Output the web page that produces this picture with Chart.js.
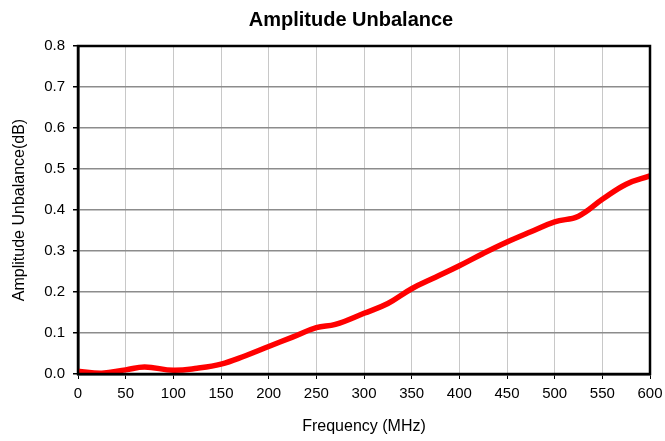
<!DOCTYPE html>
<html>
<head>
<meta charset="utf-8">
<script src="https://cdn.jsdelivr.net/npm/chart.js@4/dist/chart.umd.min.js"></script>
<style>
  html, body { margin: 0; padding: 0; background: #fff; }
  #wrap { width: 665px; height: 441px; }
</style>
</head>
<body>
<div id="wrap"><canvas id="chart"></canvas></div>
<script>
// ----------------------------------------------------
//                 DATA
// ----------------------------------------------------
const chartTitle = "Amplitude Unbalance";
const xTitle = "Frequency (MHz)";
const yTitle = "Amplitude Unbalance(dB)";

const freqMHz = [0, 25, 50, 70, 100, 125, 150, 175, 200, 225, 250, 270, 300, 325, 350, 375, 400, 425, 450, 475, 500, 525, 550, 575, 600];
const unbalanceDB = [0.007, 0.002, 0.010, 0.017, 0.009, 0.014, 0.024, 0.044, 0.067, 0.090, 0.113, 0.121, 0.148, 0.172, 0.208, 0.236, 0.264, 0.294, 0.322, 0.347, 0.371, 0.385, 0.426, 0.463, 0.483];

const xTicks = [0, 50, 100, 150, 200, 250, 300, 350, 400, 450, 500, 550, 600];
const yTicks = [0.0, 0.1, 0.2, 0.3, 0.4, 0.5, 0.6, 0.7, 0.8];

// ----------------------------------------------------
//                 PLUGINS
// ----------------------------------------------------
const FONT = "'Liberation Sans', Arial, sans-serif";

// titre + cadre noir autour de la zone de tracé
const frame = {
  id: "frame",
  afterDraw(chart) {
    const { ctx, chartArea: a } = chart;
    ctx.save();
    ctx.strokeStyle = "#000";
    ctx.lineWidth = 2.5;
    ctx.strokeRect(a.left, a.top, a.right - a.left, a.bottom - a.top);
    ctx.fillStyle = "#000";
    ctx.font = "bold 20px " + FONT;
    ctx.textAlign = "center";
    ctx.textBaseline = "middle";
    ctx.fillText(chartTitle, 351, 20);
    ctx.restore();
  }
};

// ----------------------------------------------------
//                 CHART
// ----------------------------------------------------
new Chart(document.getElementById("chart"), {
  type: "line",
  data: {
    datasets: [{
      data: freqMHz.map((f, i) => ({ x: f, y: unbalanceDB[i] })),
      borderColor: "#ff0000",
      borderWidth: 5.5,
      pointRadius: 0,
      tension: 0.4,
      fill: false
    }]
  },
  options: {
    responsive: true,
    maintainAspectRatio: false,
    animation: false,
    layout: { padding: { top: 46, right: 15, left: 0, bottom: 0 } },
    plugins: {
      legend: { display: false },
      tooltip: { enabled: false }
    },
    scales: {
      x: {
        type: "linear",
        min: 0, max: 600,
        afterBuildTicks: s => { s.ticks = xTicks.map(v => ({ value: v })); },
        afterFit: s => { s.height = 67; s.paddingLeft = 0; s.paddingRight = 0; },
        grid: { color: "#c8c8c8", lineWidth: 1, tickColor: "#000", tickLength: 5 },
        border: { color: "#000", width: 2.5 },
        ticks: { color: "#000", padding: 6, maxRotation: 0, font: { family: FONT, size: 15 } },
        title: { display: true, text: xTitle, color: "#000", padding: { top: 0, bottom: 5 }, font: { family: FONT, size: 16 } }
      },
      y: {
        min: 0, max: 0.8,
        afterBuildTicks: s => { s.ticks = yTicks.map(v => ({ value: v })); },
        afterFit: s => { s.width = 78; s.paddingTop = 0; s.paddingBottom = 0; },
        grid: { color: "#8c8c8c", lineWidth: 1.5, tickColor: "#000", tickLength: 5 },
        border: { color: "#000", width: 2.5 },
        ticks: { color: "#000", padding: 8, font: { family: FONT, size: 15 }, callback: v => v.toFixed(1) },
        title: { display: true, text: yTitle, color: "#000", padding: { top: 10, bottom: 0 }, font: { family: FONT, size: 16 } }
      }
    }
  },
  plugins: [frame]
});
</script>
</body>
</html>
